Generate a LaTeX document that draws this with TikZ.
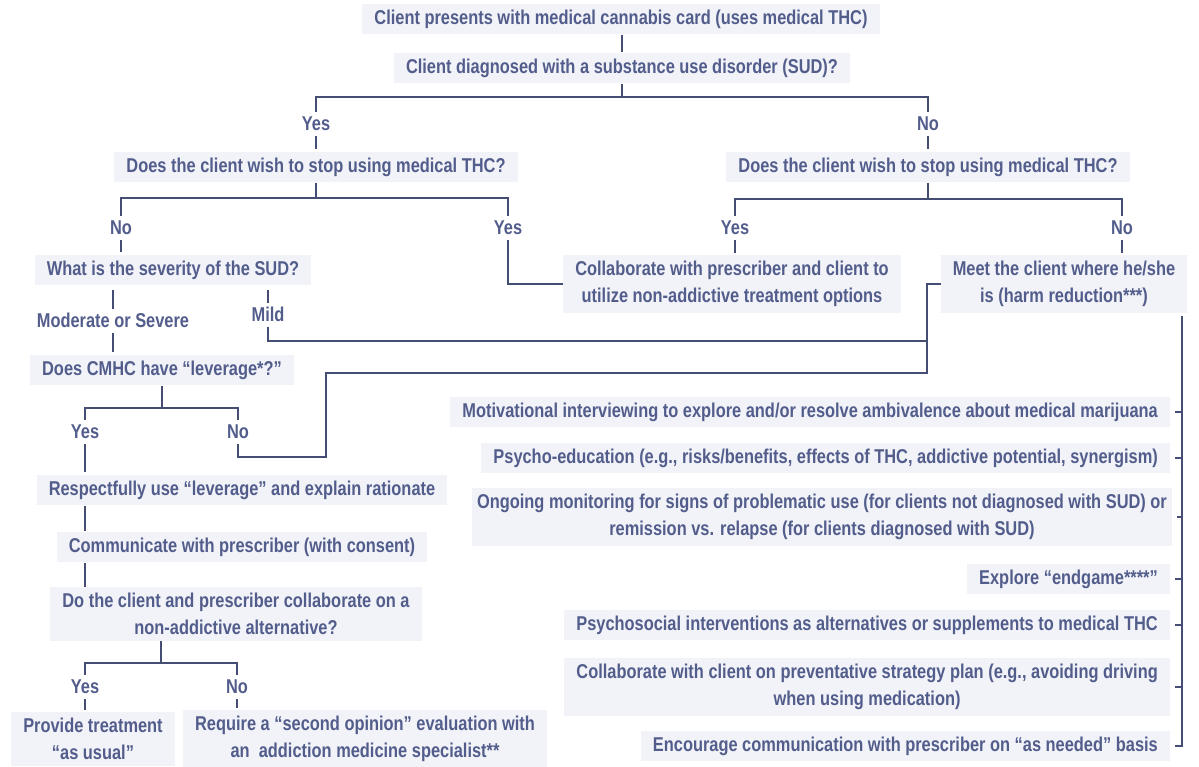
\documentclass[tikz,border=0pt]{standalone}
\usepackage{fontspec}
\setmainfont{Liberation Sans}[FakeStretch=0.82]
\definecolor{txt}{HTML}{535D8C}
\definecolor{ln}{HTML}{454D75}
\definecolor{bx}{HTML}{F1F3F8}
\begin{document}
\begin{tikzpicture}[x=1pt,y=-1pt,
  t/.style={font=\fontsize{20}{27}\selectfont\bfseries, text=txt, align=center, inner sep=1pt},
  b/.style={t, fill=bx, inner xsep=12pt, inner ysep=6pt},
  lbl/.style={t, inner sep=1pt},
  c/.style={draw=ln, line width=1.3pt},
  br/.style={c, shorten <=4pt, shorten >=4pt},
  tk/.style={c, shorten <=4pt, shorten >=2pt},
]
\useasboundingbox[fill=white] (0,0) rectangle (1199,767);

% top
\node[b] (T1) at (621,19) {Client presents with medical cannabis card (uses medical THC)};
\node[b] (T2) at (622,68) {Client diagnosed with a substance use disorder (SUD)?};
\node[lbl] (yes1) at (316,124) {Yes};
\node[lbl] (no1) at (928,124) {No};
\node[b] (T3) at (316,167) {Does the client wish to stop using medical THC?};
\node[b] (T4) at (928,167) {Does the client wish to stop using medical THC?};
\node[lbl] (noA) at (121,228) {No};
\node[lbl] (yesA) at (508,228) {Yes};
\node[lbl] (yesB) at (735,228) {Yes};
\node[lbl] (noB) at (1122,228) {No};
\node[b] (T5) at (173,270) {What is the severity of the SUD?};
\node[b] (T6) at (732,284) {Collaborate with prescriber and client to\\utilize non-addictive treatment options};
\node[b] (T7) at (1064,284) {Meet the client where he/she\\is (harm reduction***)};
\node[lbl] (mod) at (113,320) {Moderate or Severe};
\node[lbl] (mild) at (268,314) {Mild};
\node[b] (CM) at (162,370) {Does CMHC have “leverage*?”};
\node[lbl] (yes3) at (85,432) {Yes};
\node[lbl] (no3) at (238,432) {No};
\node[b] (T8) at (242,490) {Respectfully use “leverage” and explain rationate};
\node[b] (T9) at (242,547) {Communicate with prescriber (with consent)};
\node[b] (T10) at (236,614) {Do the client and prescriber collaborate on a\\non-addictive alternative?};
\node[lbl] (yes4) at (85,687) {Yes};
\node[lbl] (no4) at (237,687) {No};
\node[b] (T11) at (93,739) {Provide treatment\\“as usual”};
\node[b] (T12) at (365,739) {Require a “second opinion” evaluation with\\an\ \ addiction medicine specialist**};

% right column
\node[b, anchor=east] (R1) at (1170,412) {Motivational interviewing to explore and/or resolve ambivalence about medical marijuana};
\node[b, anchor=east] (R2) at (1170,458) {Psycho-education (e.g., risks/benefits, effects of THC, addictive potential, synergism)};
\node[b, anchor=east, inner xsep=5pt] (R3) at (1172,517) {Ongoing monitoring for signs of problematic use (for clients not diagnosed with SUD) or\\remission vs. relapse (for clients diagnosed with SUD)};
\node[b, anchor=east] (R4) at (1170,579) {Explore “endgame****”};
\node[b, anchor=east] (R5) at (1170,625) {Psychosocial interventions as alternatives or supplements to medical THC};
\node[b, anchor=east] (R6) at (1170,687) {Collaborate with client on preventative strategy plan (e.g., avoiding driving\\when using medication)};
\node[b, anchor=east] (R7) at (1170,746) {Encourage communication with prescriber on “as needed” basis};

% connectors
\coordinate (j1) at (622,97);
\draw[c] (T1.south -| j1) -- (T2.north -| j1);
\draw[c] (T2.south) -- (j1);
\draw[br] (yes1.north) |- (j1) -| (no1.north);
\draw[tk] (yes1.south) -- (T3.north);
\draw[tk] (no1.south) -- (T4.north);

\coordinate (j3) at (316,198);
\coordinate (j4) at (928,199);
\draw[c] (T3.south) -- (j3);
\draw[c] (T4.south) -- (j4);
\draw[br] (noA.north) |- (j3) -| (yesA.north);
\draw[br] (yesB.north) |- (j4) -| (noB.north);

\draw[tk] (noA.south) -- (noA.south |- T5.north);
\draw[c, shorten <=4pt] (yesA.south) |- (T6.west);
\draw[tk] (yesB.south) -- (yesB.south |- T6.north);
\draw[tk] (noB.south) -- (noB.south |- T7.north);

\draw[tk] (mod.north |- T5.south) -- (mod.north);
\draw[tk] (mild.north |- T5.south) -- (mild.north);
\draw[tk] (mod.south) -- (mod.south |- CM.north);

\coordinate (ja) at (927,341);
\coordinate (jb) at (927,373);
\coordinate (jc) at (326,373);
\coordinate (jd) at (326,457);
\draw[c, shorten <=4pt] (mild.south) |- (ja);
\draw[c, shorten >=4pt] (T7.west) -| (jb) -- (jc) -- (jd) -| (no3.south);

\coordinate (j5) at (162,408);
\draw[c] (CM.south) -- (j5);
\draw[br] (yes3.north) |- (j5) -| (no3.north);
\draw[tk] (yes3.south) -- (yes3.south |- T8.north);
\draw[c] (T8.south -| yes3) -- (T9.north -| yes3);
\draw[c] (T9.south -| yes3) -- (T10.north -| yes3);

\coordinate (j6) at (161,663);
\draw[c] (T10.south -| j6) -- (j6);
\draw[br] (yes4.north) |- (j6) -| (no4.north);
\draw[tk] (yes4.south) -- (yes4.south |- T11.north);
\draw[tk] (no4.south) -- (no4.south |- T12.north);

\coordinate (rx) at (1182,0);
\draw[c, shorten >=5pt] ([yshift=-3pt]T7.south -| rx) -- (R7.east -| rx) -- (R7.east);
\foreach \n in {R1,R2,R3,R4,R5,R6}
  \draw[c, shorten <=5pt] (\n.east) -- (\n.east -| rx);
\end{tikzpicture}
\end{document}
